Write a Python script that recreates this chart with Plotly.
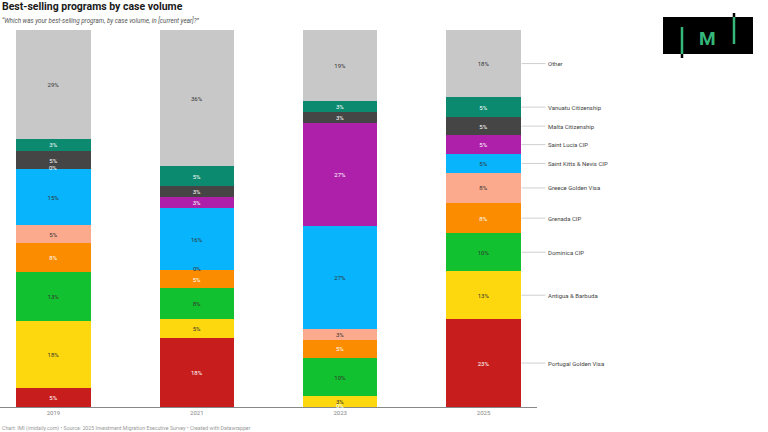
import plotly.graph_objects as go

# Data (shares in %, stacked bottom -> top)
years = ["2019", "2021", "2023", "2025"]
programs = ["Portugal Golden Visa", "Antigua & Barbuda", "Dominica CIP", "Grenada CIP",
            "Greece Golden Visa", "Saint Kitts & Nevis CIP", "Saint Lucia CIP",
            "Malta Citizenship", "Vanuatu Citizenship", "Other"]
portugal = [5.1, 18.3, 0, 23.3]
antigua = [17.6, 5.0, 2.9, 12.7]
dominica = [13.0, 8.2, 10.1, 10.1]
grenada = [7.7, 4.8, 4.8, 8.0]
greece = [4.8, 0, 2.9, 8.0]
st_kitts = [14.9, 16.4, 27.3, 5.0]
st_lucia = [0, 2.9, 27.4, 5.0]
malta = [4.8, 2.9, 2.9, 4.8]
vanuatu = [3.2, 5.3, 2.9, 5.3]
other = [28.9, 36.2, 18.8, 17.8]

series = [portugal, antigua, dominica, grenada, greece,
          st_kitts, st_lucia, malta, vanuatu, other]
colors = ['#c71e1d', '#fdd80f', '#12c12f', '#fb8c00', '#fcaa8e',
          '#08b4fb', '#ae20a9', '#454545', '#0b8a6f', '#c8c8c8']
text_colors = ['white', '#333', '#333', 'white', '#333',
               '#333', 'white', 'white', 'white', '#333']

FONT = "Roboto"

# pixel -> paper helpers (plot area is 0..537 px wide, 30..407 px tall)
def px(x):
    return x / 537

def py(y):
    return (407 - y) / 377

fig = go.Figure()

for name, vals, col, tcol in zip(programs, series, colors, text_colors):
    fig.add_trace(go.Bar(
        x=years, y=vals, name=name,
        marker=dict(color=col, line=dict(width=0)),
        texttemplate='%{y:.0f}%', textposition='inside',
        insidetextanchor='middle', constraintext='none',
        textfont=dict(family=FONT, size=6, color=tcol),
        showlegend=False,
    ))

annotations = []

# "0%" labels for empty segments, and direct labels next to the last bar
for i in range(len(years)):
    base = 0
    for name, vals, tcol in zip(programs, series, text_colors):
        v = vals[i]
        if v == 0:
            annotations.append(dict(x=i, y=base, xref='x', yref='y', text='0%', yshift=1.5,
                                    showarrow=False, font=dict(family=FONT, size=6, color=tcol)))
        if i == len(years) - 1:
            annotations.append(dict(x=i + 0.265, y=base + v / 2, xref='x', yref='y',
                                    text=name, showarrow=True, arrowhead=0, arrowwidth=0.7,
                                    arrowcolor='#bbbbbb', ax=24, ay=0, standoff=0,
                                    xanchor='left', font=dict(family=FONT, size=6, color='#444')))
        base += v

annotations += [
    dict(x=0, y=py(6.5), xref='paper', yref='paper', xanchor='left', yanchor='middle',
         text='<b>Best-selling programs by case volume</b>', showarrow=False,
         font=dict(family=FONT, size=10.5, color='#1a1a1a')),
    dict(x=0, y=py(20.5), xref='paper', yref='paper', xanchor='left', yanchor='middle',
         text='<i>\u201cWhich was your best-selling program, by case volume, in [current year]?\u201d</i>',
         showarrow=False, font=dict(family=FONT, size=6.3, color='#555')),
    dict(x=0, y=py(428), xref='paper', yref='paper', xanchor='left', yanchor='middle',
         text='Chart: IMI (imidaily.com) \u2022 Source: 2025 Investment Migration Executive Survey \u2022 Created with Datawrapper',
         showarrow=False, font=dict(family=FONT, size=5.25, color='#999')),
    dict(x=px(707), y=py(38), xref='paper', yref='paper', xanchor='center', yanchor='middle',
         text='<b>M</b>', showarrow=False, font=dict(family=FONT, size=19, color='#35b77a')),
]

# IMI logo
green = '#35b77a'
shapes = [
    dict(type='rect', xref='paper', yref='paper', x0=px(663), x1=px(753), y0=py(54), y1=py(17),
         fillcolor='black', line=dict(width=0)),
    dict(type='line', xref='paper', yref='paper', x0=px(682), x1=px(682), y0=py(27), y1=py(54),
         line=dict(color=green, width=2.5)),
    dict(type='line', xref='paper', yref='paper', x0=px(682), x1=px(682), y0=py(54), y1=py(58),
         line=dict(color='black', width=2.5)),
    dict(type='line', xref='paper', yref='paper', x0=px(734), x1=px(734), y0=py(17), y1=py(44),
         line=dict(color=green, width=2.5)),
    dict(type='line', xref='paper', yref='paper', x0=px(734), x1=px(734), y0=py(13), y1=py(17),
         line=dict(color='black', width=2.5)),
]

fig.update_layout(
    width=768, height=432,
    barmode='stack', bargap=0.48,
    margin=dict(l=0, r=231, t=30, b=25, pad=0),
    paper_bgcolor='white', plot_bgcolor='white',
    font=dict(family=FONT),
    xaxis=dict(type='category', range=[-0.373, 3.373], showline=True, linecolor='#888',
               linewidth=1, showgrid=False, ticks='', tickfont=dict(size=6, color='#888')),
    yaxis=dict(range=[0, 100], visible=False),
    annotations=annotations,
    shapes=shapes,
)

# drop the browser's default body margin so the 768x432 figure fills the window
fig.write_html("out.html", config={'displayModeBar': False},
               post_script="document.body.style.margin='0px';")
